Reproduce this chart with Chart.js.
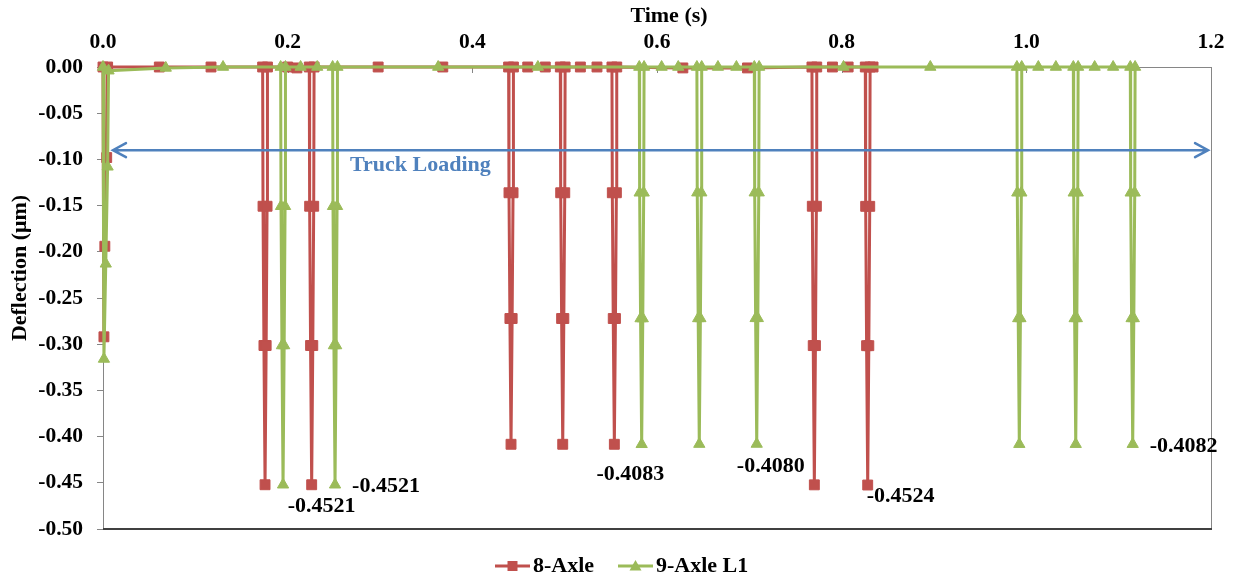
<!DOCTYPE html>
<html>
<head>
<meta charset="utf-8">
<script src="https://cdn.jsdelivr.net/npm/chart.js@4.4.1/dist/chart.umd.min.js"></script>
<style>
  html, body { margin: 0; padding: 0; background: #fff; }
  #wrap { width: 1233px; height: 580px; }
</style>
</head>
<body>
<div id="wrap"><canvas id="deflectionChart" width="1233" height="580"></canvas></div>
<script>
// ---- data ----
const axle8Time = [
  0.000, 0.001, 0.002, 0.004, 0.005,
  0.061, 0.117,
  0.1729, 0.1733, 0.1743, 0.1755, 0.1767, 0.1777, 0.1781,
  0.200, 0.210,
  0.2234, 0.2238, 0.2248, 0.2260, 0.2272, 0.2282, 0.2286,
  0.298, 0.368,
  0.4393, 0.4397, 0.4407, 0.4419, 0.4431, 0.4441, 0.4445,
  0.460, 0.479,
  0.4953, 0.4957, 0.4967, 0.4979, 0.4991, 0.5001, 0.5005,
  0.517, 0.535,
  0.5512, 0.5516, 0.5526, 0.5538, 0.5550, 0.5560, 0.5564,
  0.628, 0.698,
  0.7678, 0.7682, 0.7692, 0.7704, 0.7716, 0.7726, 0.7730,
  0.790, 0.807,
  0.8256, 0.8260, 0.8270, 0.8282, 0.8294, 0.8304, 0.8308,
  0.834
]
const axle8Defl = [
  0, -0.292, -0.194, -0.098, 0,
  0, 0,
  0, -0.1507, -0.3014, -0.4521, -0.3014, -0.1507, 0,
  0, -0.001,
  0, -0.1507, -0.3014, -0.4521, -0.3014, -0.1507, 0,
  0, 0,
  0, -0.1361, -0.2722, -0.4083, -0.2722, -0.1361, 0,
  0, 0,
  0, -0.1361, -0.2722, -0.4083, -0.2722, -0.1361, 0,
  0, 0,
  0, -0.1361, -0.2722, -0.4083, -0.2722, -0.1361, 0,
  -0.001, -0.001,
  0, -0.1507, -0.3015, -0.4522, -0.3015, -0.1507, 0,
  0, 0,
  0, -0.1508, -0.3016, -0.4524, -0.3016, -0.1508, 0,
  0
]

const axle9Time = [
  0.000, 0.001, 0.003, 0.005, 0.006,
  0.068, 0.130,
  0.1924, 0.1928, 0.1938, 0.1950, 0.1962, 0.1972, 0.1976,
  0.214, 0.232,
  0.2487, 0.2491, 0.2501, 0.2513, 0.2525, 0.2535, 0.2539,
  0.363, 0.471,
  0.5808, 0.5812, 0.5822, 0.5834, 0.5846, 0.5856, 0.5860,
  0.605, 0.623,
  0.6432, 0.6436, 0.6446, 0.6458, 0.6470, 0.6480, 0.6484,
  0.666, 0.686,
  0.7054, 0.7058, 0.7068, 0.7080, 0.7092, 0.7102, 0.7106,
  0.802, 0.896,
  0.9898, 0.9902, 0.9912, 0.9924, 0.9936, 0.9946, 0.9950,
  1.013, 1.032,
  1.0509, 1.0513, 1.0523, 1.0535, 1.0547, 1.0557, 1.0561,
  1.074, 1.094,
  1.1126, 1.1130, 1.1140, 1.1152, 1.1164, 1.1174, 1.1178
]
const axle9Defl = [
  0, -0.316, -0.213, -0.108, -0.004,
  -0.001, 0,
  0, -0.1507, -0.3014, -0.4521, -0.3014, -0.1507, 0,
  0, 0,
  0, -0.1507, -0.3014, -0.4521, -0.3014, -0.1507, 0,
  0, 0,
  0, -0.1361, -0.2722, -0.4083, -0.2722, -0.1361, 0,
  0, 0,
  0, -0.1360, -0.2721, -0.4081, -0.2721, -0.1360, 0,
  0, 0,
  0, -0.1360, -0.2720, -0.4080, -0.2720, -0.1360, 0,
  0, 0,
  0, -0.1361, -0.2721, -0.4082, -0.2721, -0.1361, 0,
  0, 0,
  0, -0.1361, -0.2721, -0.4082, -0.2721, -0.1361, 0,
  0, 0,
  0, -0.1361, -0.2721, -0.4082, -0.2721, -0.1361, 0
]

const xTickLabels = ['0.0', '0.2', '0.4', '0.6', '0.8', '1.0', '1.2']
const yTickLabels = ['0.00', '-0.05', '-0.10', '-0.15', '-0.20', '-0.25', '-0.30', '-0.35', '-0.40', '-0.45', '-0.50']

// peak values that carry a label
const labelSeries = [0, 1, 0, 1, 0, 1]
const labelTimes = [0.2260, 0.2513, 0.5538, 0.7080, 0.8282, 1.1152]
const labelValues = [-0.4521, -0.4521, -0.4083, -0.4080, -0.4524, -0.4082]

// truck loading arrow (time range and level)
const loadStart = 0.0108
const loadEnd = 1.1968
const loadLevel = -0.09
const loadText = 'Truck Loading'

// ---- styles ----
const RED = '#C0504D'
const GREEN = '#9BBB59'
const BLUE = '#4F81BD'
const AXIS = '#868686'
const SERIF = '"Liberation Serif", "Times New Roman", serif'
const font = size => ({ family: SERIF, size: size, weight: 'bold' })
const cssFont = size => 'bold ' + size + 'px ' + SERIF

const decorPlugin = {
  id: 'decor',
  beforeDatasetsDraw(chart) {
    const { ctx, chartArea: a, scales: { x } } = chart
    ctx.save()
    // right side of plot frame
    ctx.strokeStyle = AXIS
    ctx.lineWidth = 1
    ctx.beginPath()
    ctx.moveTo(a.right + 0.5, a.top)
    ctx.lineTo(a.right + 0.5, a.bottom)
    ctx.stroke()
    // bottom of plot frame
    ctx.strokeStyle = '#404040'
    ctx.lineWidth = 2
    ctx.beginPath()
    ctx.moveTo(a.left, a.bottom)
    ctx.lineTo(a.right + 1, a.bottom)
    ctx.stroke()
    // time ticks point into the plot
    ctx.strokeStyle = AXIS
    ctx.lineWidth = 1
    xTickLabels.forEach(l => {
      const px = Math.round(x.getPixelForValue(Number(l))) + 0.5
      ctx.beginPath()
      ctx.moveTo(px, a.top)
      ctx.lineTo(px, a.top + 6)
      ctx.stroke()
    })
    ctx.restore()
  },
  afterDatasetsDraw(chart) {
    const { ctx, scales: { x, y } } = chart
    ctx.save()
    // double arrow
    const x1 = x.getPixelForValue(loadStart)
    const x2 = x.getPixelForValue(loadEnd)
    const yy = y.getPixelForValue(loadLevel)
    ctx.strokeStyle = BLUE
    ctx.lineWidth = 2.5
    ctx.lineCap = 'round'
    ctx.beginPath()
    ctx.moveTo(x1, yy)
    ctx.lineTo(x2, yy)
    ctx.moveTo(x1 + 13, yy - 7)
    ctx.lineTo(x1, yy)
    ctx.lineTo(x1 + 13, yy + 7)
    ctx.moveTo(x2 - 13, yy - 7)
    ctx.lineTo(x2, yy)
    ctx.lineTo(x2 - 13, yy + 7)
    ctx.stroke()
    ctx.fillStyle = BLUE
    ctx.font = cssFont(22)
    ctx.textAlign = 'left'
    ctx.textBaseline = 'middle'
    ctx.fillText(loadText, x1 + 237, yy + 15)

    // peak labels
    const labelOffsets = [[10, 22], [51, 2], [16, 30], [14, 22], [33, 11], [51, 2]]
    ctx.fillStyle = '#000'
    ctx.textAlign = 'center'
    labelValues.forEach((v, i) => {
      const px = x.getPixelForValue(labelTimes[i]) + labelOffsets[i][0]
      const py = y.getPixelForValue(v) + labelOffsets[i][1]
      ctx.fillText(v.toFixed(4), px, py)
    })
    ctx.restore()
  },
  afterDraw(chart) {
    const { ctx } = chart
    ctx.save()
    ctx.fillStyle = '#000'
    ctx.font = cssFont(22)
    ctx.textAlign = 'center'
    ctx.textBaseline = 'middle'
    // axis titles
    ctx.fillText('Time (s)', 669, 16)
    ctx.save()
    ctx.translate(20, 268)
    ctx.rotate(-Math.PI / 2)
    ctx.fillText('Deflection (μm)', 0, 0)
    ctx.restore()

    // legend: line with marker
    const items = [
      { x: 495, ds: chart.data.datasets[0] },
      { x: 618, ds: chart.data.datasets[1] }
    ]
    const ly = 566
    items.forEach(it => {
      ctx.strokeStyle = it.ds.borderColor
      ctx.lineWidth = 3
      ctx.beginPath()
      ctx.moveTo(it.x, ly)
      ctx.lineTo(it.x + 35, ly)
      ctx.stroke()
      ctx.fillStyle = it.ds.borderColor
      const cx = it.x + 17.5
      ctx.beginPath()
      if (it.ds.pointStyle === 'rect') {
        ctx.rect(cx - 5, ly - 5, 10, 10)
      } else {
        ctx.moveTo(cx, ly - 6)
        ctx.lineTo(cx + 6, ly + 4.5)
        ctx.lineTo(cx - 6, ly + 4.5)
        ctx.closePath()
      }
      ctx.fill()
      ctx.fillStyle = '#000'
      ctx.textAlign = 'left'
      ctx.fillText(it.ds.label, it.x + 38, ly)
    })
    ctx.restore()
  }
}

const ctx = document.getElementById('deflectionChart').getContext('2d')

new Chart(ctx, {
  type: 'line',
  data: {
    datasets: [
      {
        label: '8-Axle',
        data: axle8Time.map((t, i) => ({ x: t, y: axle8Defl[i] })),
        borderColor: RED,
        backgroundColor: RED,
        borderWidth: 3,
        pointStyle: 'rect',
        pointRadius: 7,
        pointBorderWidth: 1,
        pointBorderColor: RED,
        pointBackgroundColor: RED,
        tension: 0,
        clip: false,
        order: 2
      },
      {
        label: '9-Axle L1',
        data: axle9Time.map((t, i) => ({ x: t, y: axle9Defl[i] })),
        borderColor: GREEN,
        backgroundColor: GREEN,
        borderWidth: 3,
        pointStyle: 'triangle',
        pointRadius: 6.5,
        pointBorderWidth: 1,
        pointBorderColor: GREEN,
        pointBackgroundColor: GREEN,
        tension: 0,
        clip: false,
        order: 1
      }
    ]
  },
  options: {
    responsive: false,
    animation: false,
    devicePixelRatio: 1,
    layout: { padding: { left: 0, right: 22, top: 0, bottom: 51 } },
    plugins: {
      legend: { display: false },
      tooltip: { enabled: false }
    },
    scales: {
      x: {
        type: 'linear',
        position: 'top',
        min: 0,
        max: 1.2,
        afterBuildTicks: s => { s.ticks = xTickLabels.map(l => ({ value: Number(l) })) },
        afterFit: s => { s.height = 67 },
        grid: { display: false },
        border: { display: true, color: AXIS, width: 1 },
        ticks: {
          autoSkip: false,
          maxRotation: 0,
          padding: 4,
          color: '#000',
          font: font(21.5),
          callback: (v, i) => xTickLabels[i]
        }
      },
      y: {
        type: 'linear',
        min: -0.5,
        max: 0,
        afterBuildTicks: s => { s.ticks = yTickLabels.map(l => ({ value: Number(l) })) },
        afterFit: s => { s.width = 103 },
        grid: { drawOnChartArea: false, drawTicks: true, tickLength: 6, color: AXIS },
        border: { display: true, color: AXIS, width: 1 },
        ticks: {
          autoSkip: false,
          padding: 14,
          color: '#000',
          font: font(21.5),
          callback: (v, i) => yTickLabels[i]
        }
      }
    }
  },
  plugins: [decorPlugin]
})
</script>
</body>
</html>
